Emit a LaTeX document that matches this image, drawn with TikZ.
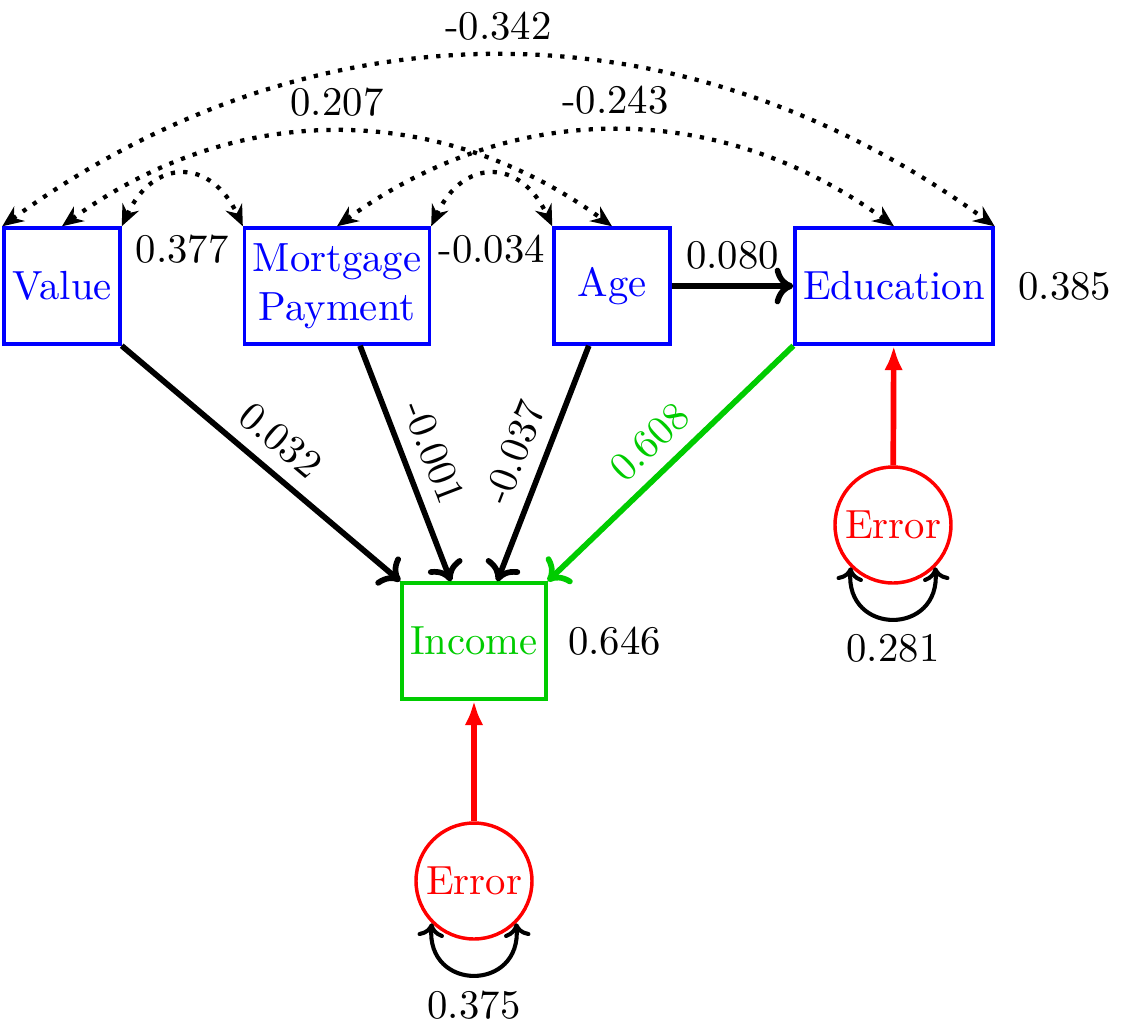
\documentclass[tikz,border=0pt]{standalone}
\usetikzlibrary{arrows.meta,positioning}
\definecolor{outgreen}{RGB}{0,204,0}
\begin{document}
\begin{tikzpicture}[x=0.2457pt,y=0.2457pt,
  obsbox/.style={rectangle, draw=blue, text=blue, line width=0.85pt, minimum width=28.5pt,
    minimum height=28.5pt, inner sep=2pt, align=center},
  outbox/.style={obsbox, draw=outgreen, text=outgreen},
  errnode/.style={circle, draw=red, text=red, line width=0.85pt, minimum size=28.5pt, inner sep=0pt},
  effect/.style={line width=1.4pt, -{Computer Modern Rightarrow[length=4.6pt,width=9pt]}},
  errpath/.style={red, line width=1.4pt, -{Latex[length=6pt,width=4.6pt]}},
  cov/.style={line width=1.05pt, dotted, {Stealth[length=5.2pt,width=4.4pt,inset=1.7pt]}-{Stealth[length=5.2pt,width=4.4pt,inset=1.7pt]}},
  varloop/.style={line width=1pt, {Computer Modern Rightarrow[length=3.4pt,width=6.5pt]}-{Computer Modern Rightarrow[length=3.4pt,width=6.5pt]}}
]
\useasboundingbox (0,0) rectangle (1125,-1031);

% variables
\node[obsbox] (val)  at (62,-286)  {Value};
\node[obsbox] (mort) at (337,-286) {Mortgage\\Payment};
\node[obsbox] (age)  at (612,-286) {Age};
\node[obsbox] (edu)  at (894,-286) {Education};
\node[outbox] (inc)  at (474,-641) {Income};
\node[errnode] (e1)  at (474,-881) {Error};
\node[errnode] (e2)  at (893,-525) {Error};

% R-squared values
\node[right=2.3pt of edu] (redu) {0.385};
\node[right=1.5pt of inc] (rinc) {0.646};

% paths into Income
\draw[effect] (val.south east) -- node[midway, sloped, above] {0.032} (inc.north west);
\draw[effect] (mort) -- node[midway, sloped, above] {-0.001} (inc);
\draw[effect] (age) -- node[midway, sloped, above] {-0.037} (inc);
\draw[effect, outgreen] (edu.south west) -- node[midway, sloped, above, text=outgreen] {0.608} (inc.north east);
\draw[effect] (age) -- node[midway, above] {0.080} (edu);

% error terms
\draw[errpath] (e1) -- (inc);
\draw[errpath] (e2) -- (edu);
\draw[varloop] (e1.225) to[out=-95, in=-85, looseness=2.1] node[midway, below] {0.375} (e1.315);
\draw[varloop] (e2.225) to[out=-95, in=-85, looseness=2.1] node[midway, below] {0.281} (e2.315);

% covariances
\draw[cov] (val.north west) to[bend left=36] node[midway, above] {-0.342} (edu.north east);
\draw[cov] (val.north) to[bend left=36] node[midway, above] {0.207} (age.north);
\draw[cov] (mort.north) to[bend left=36] node[midway, above] {-0.243} (edu.north);
\draw[cov] (val.north east) to[out=65, in=115, looseness=1.6] node[midway, below=11pt] {0.377} (mort.north west);
\draw[cov] (mort.north east) to[out=65, in=115, looseness=1.6] node[midway, below=11pt] {-0.034} (age.north west);
\end{tikzpicture}
\end{document}
